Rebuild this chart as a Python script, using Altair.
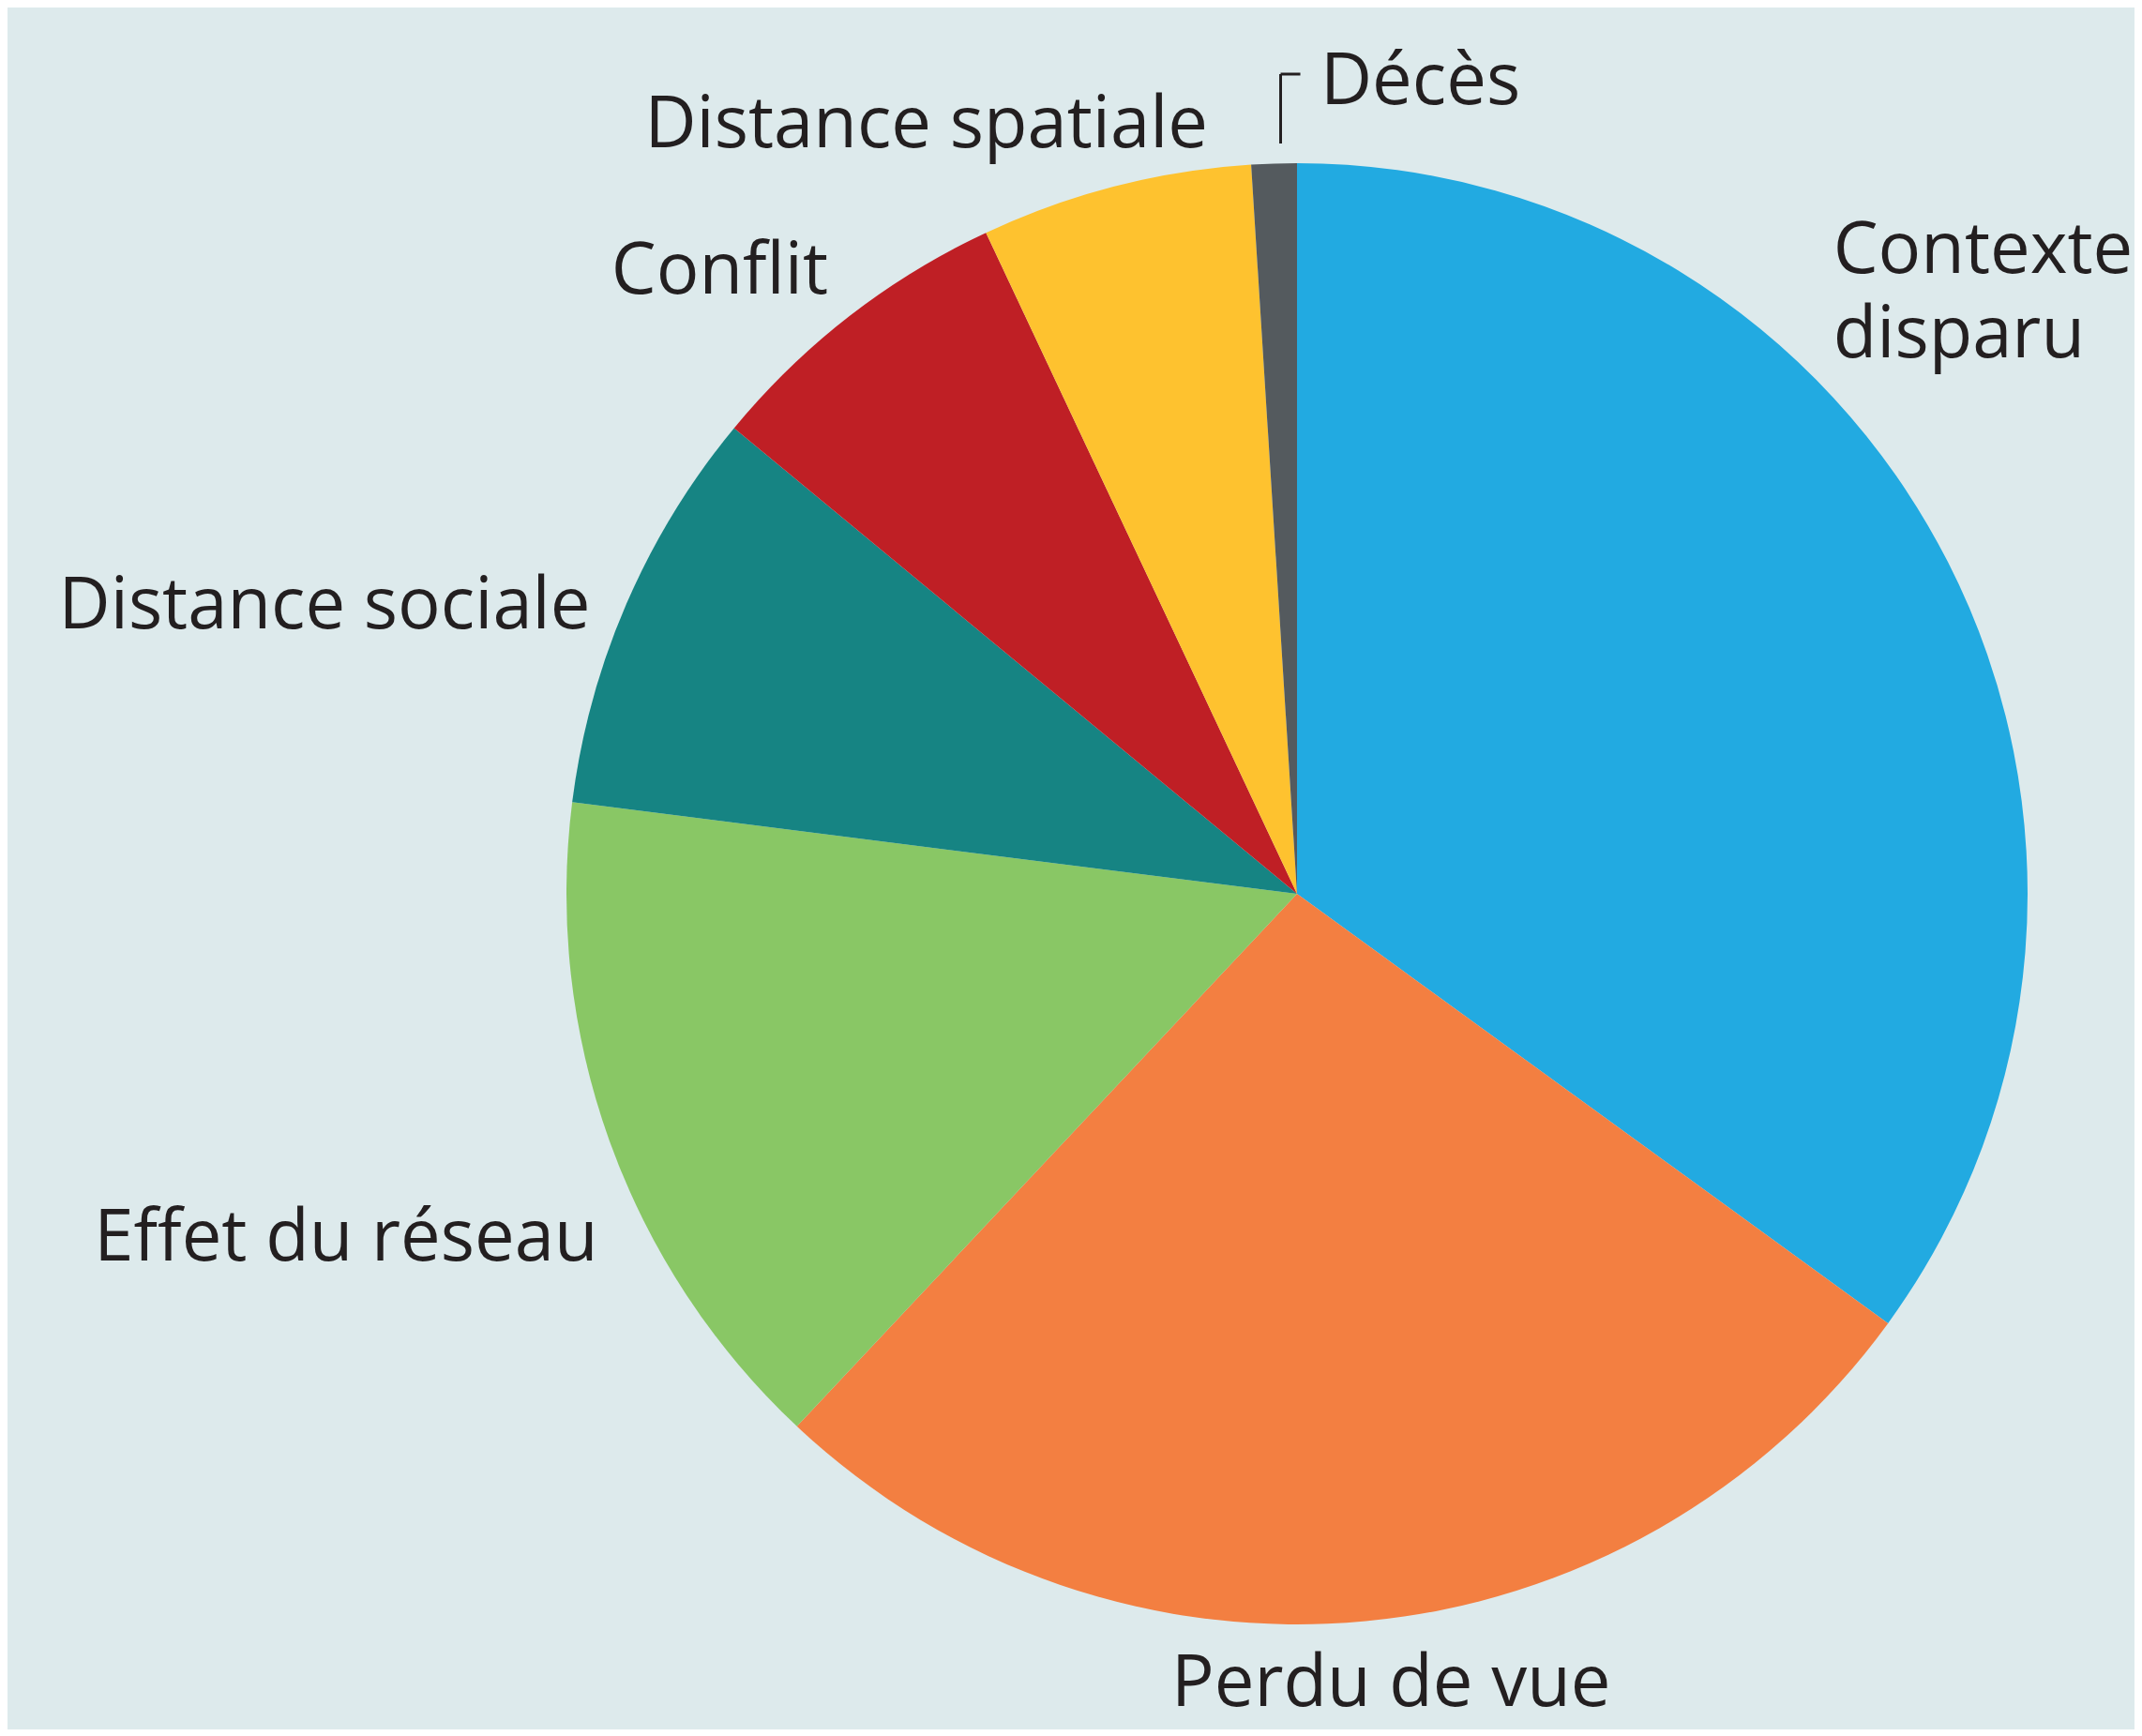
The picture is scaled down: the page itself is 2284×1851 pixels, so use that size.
import altair as alt
import pandas as pd

# ---------------- data ----------------
categories = ["Contexte disparu", "Perdu de vue", "Effet du réseau",
              "Distance sociale", "Conflit", "Distance spatiale", "Décès"]
shares = [35, 27, 15, 9, 7, 6, 1]
labels = ["Contexte\ndisparu", "Perdu de vue", "Effet du réseau",
          "Distance sociale", "Conflit", "Distance spatiale", "Décès"]
colors = ["#22AAE1", "#F37F41", "#89C765", "#168483", "#BF1F25", "#FEC22F", "#545A5E"]

# ---------------- layout ----------------
label_shift_deg = [-22.2, -1.2, -7.9, -2.8, -0.2, 7.6, 3.5]   # nudge from slice mid-angle
label_radius = [875, 872, 842, 805, 812, 802, 842]            # px from centre (baseline anchor)
label_align = ["left", "center", "right", "right", "right", "right", "left"]
label_leader = [0, 0, 0, 0, 0, 0, 1]

CX, CY, R = 1375, 945, 779
W, H = 2268, 1836
FONT = "Open Sans"
FONT_SIZE = 76
TEXT_COLOR = "#231F20"
LEAD_DX = 7

df = pd.DataFrame({
    "category": categories,
    "share": shares,
    "order": list(range(len(categories))),
    "label": labels,
    "shift": label_shift_deg,
    "lr": label_radius,
    "align": label_align,
    "leader": label_leader,
})

base = alt.Chart(df)

arcs = base.mark_arc(outerRadius=R, innerRadius=0).encode(
    theta=alt.Theta("share:Q", stack=True),
    order=alt.Order("order:Q"),
    color=alt.Color("category:N", scale=alt.Scale(domain=categories, range=colors), legend=None),
    x=alt.value(CX),
    y=alt.value(CY),
)

pos = base.transform_window(
    cum="sum(share)", sort=[alt.SortField("order")], frame=[None, 0]
).transform_joinaggregate(
    total="sum(share)"
).transform_calculate(
    mid="(datum.cum - datum.share / 2) / datum.total * 2 * PI",
).transform_calculate(
    ang="datum.mid + datum.shift * PI / 180",
).transform_calculate(
    px=f"{CX} + datum.lr * sin(datum.ang)",
    py=f"{CY} - datum.lr * cos(datum.ang)",
    lx=f"{CX} + {R} * sin(datum.mid) + {LEAD_DX}",
    ly1=f"{CY} - ({R} + 21)",
    ly2=f"{CY} - ({R} + 95)",
).transform_calculate(
    lx2="datum.lx + 21",
)

text_layers = []
for a in ["left", "center", "right"]:
    text_layers.append(
        pos.transform_filter(alt.datum.align == a).mark_text(
            align=a, baseline="alphabetic", font=FONT, fontSize=FONT_SIZE,
            color=TEXT_COLOR, lineBreak="\n", lineHeight=90,
        ).encode(
            x=alt.X("px:Q", scale=None, axis=None),
            y=alt.Y("py:Q", scale=None, axis=None),
            text="label:N",
        )
    )

lead = pos.transform_filter(alt.datum.leader == 1)
leader_v = lead.mark_rule(color=TEXT_COLOR, strokeWidth=3).encode(
    x=alt.X("lx:Q", scale=None, axis=None),
    y=alt.Y("ly1:Q", scale=None, axis=None),
    y2="ly2:Q",
)
leader_h = lead.mark_rule(color=TEXT_COLOR, strokeWidth=3).encode(
    x=alt.X("lx:Q", scale=None, axis=None),
    x2="lx2:Q",
    y=alt.Y("ly2:Q", scale=None, axis=None),
)

chart = alt.layer(arcs, *text_layers, leader_v, leader_h).properties(
    width=W, height=H,
    autosize=alt.AutoSizeParams(type="none"),
    padding=0,
    background="#DDEAEC",
).configure_view(stroke=None)

chart.save("out.html", embed_options={"renderer": "svg", "actions": False})
